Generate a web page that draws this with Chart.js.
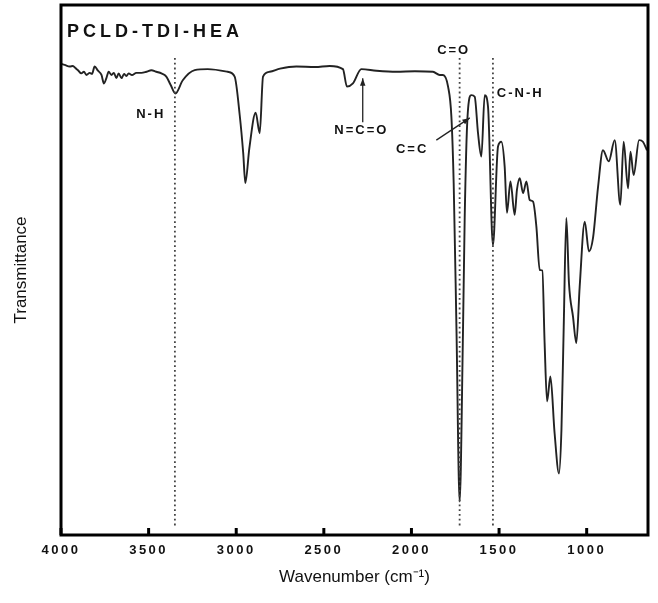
<!DOCTYPE html>
<html>
<head>
<meta charset="utf-8">
<script src="https://cdn.jsdelivr.net/npm/chart.js@4"></script>
<style>
  html, body { margin: 0; padding: 0; background: #fff; }
  #wrap { width: 658px; height: 603px; }
</style>
</head>
<body>
<div id="wrap"><canvas id="ftir-chart"></canvas></div>
<script>
// FTIR spectrum (transmittance in arbitrary units, 0 = bottom of frame)
const wavenumber = [4000, 3979, 3950, 3932, 3918, 3903, 3884, 3869, 3855, 3836, 3823, 3808, 3789, 3769, 3755, 3741,
    3728, 3712, 3698, 3684, 3671, 3655, 3640, 3627, 3614, 3595, 3570, 3541, 3513, 3484, 3456, 3427, 3399, 3374,
    3347, 3305, 3237, 3163, 3049, 3009, 2980, 2960, 2948, 2925, 2889, 2866, 2847, 2809, 2750, 2657, 2550, 2467,
    2391, 2368, 2334, 2286, 2200, 2086, 1980, 1877, 1839, 1820, 1791, 1772, 1759, 1743, 1725, 1706, 1696, 1680,
    1658, 1639, 1620, 1601, 1582, 1563, 1535, 1506, 1487, 1468, 1455, 1435, 1411, 1398, 1382, 1363, 1344, 1325,
    1306, 1287, 1268, 1253, 1240, 1226, 1207, 1183, 1158, 1144, 1131, 1116, 1101, 1078, 1059, 1040, 1011, 987,
    964, 935, 907, 874, 840, 808, 789, 764, 750, 732, 701, 679, 656];
const transmittance = [88.9, 88.7, 88.4, 88.5, 88.1, 87.7, 87.1, 87.4, 86.8, 87.2, 87.0, 88.4, 87.6, 86.8, 85.2, 86.2,
    87.4, 86.8, 87.2, 86.2, 87.1, 86.2, 87.0, 86.6, 87.1, 86.8, 87.2, 87.2, 87.4, 87.7, 87.4, 87.1, 86.5, 84.9,
    83.3, 85.8, 87.7, 87.9, 87.4, 86.5, 79.2, 72.0, 66.4, 73.0, 79.7, 75.8, 86.5, 87.4, 88.0, 88.4, 88.3, 88.5,
    87.9, 84.6, 85.2, 87.9, 87.6, 87.4, 87.5, 87.4, 86.8, 86.8, 84.6, 78.9, 66.4, 38.7, 6.3, 38.0, 60.1, 78.9,
    83.0, 82.7, 75.8, 71.4, 83.0, 80.8, 54.7, 73.3, 74.2, 69.5, 60.8, 66.7, 60.4, 65.1, 67.3, 64.5, 66.7, 63.2,
    62.9, 58.2, 50.0, 49.9, 36.2, 25.2, 29.9, 19.2, 11.6, 19.8, 39.3, 59.8, 47.5, 41.2, 36.2, 46.8, 59.1, 53.5,
    56.0, 65.7, 72.6, 70.5, 74.5, 62.3, 74.2, 65.4, 72.3, 67.9, 74.5, 74.2, 72.6];

const xTickValues = [4000, 3500, 3000, 2500, 2000, 1500, 1000];
const peakLines = [3350, 1725, 1535];           // dotted guide lines
const peakLabels = [
    { text: 'N-H', x: 3488, y: 79.4, align: 'center' },
    { text: 'N=C=O', x: 2286, y: 76.4, align: 'center' },
    { text: 'C=O', x: 1759, y: 91.5, align: 'center' },
    { text: 'C-N-H', x: 1513, y: 83.4, align: 'left' },
    { text: 'C=C', x: 1996, y: 72.8, align: 'center' }
];
const arrows = [
    { from: [2278, 77.9], to: [2278, 86.2] },
    { from: [1858, 74.5], to: [1667, 78.7] }
];
const sampleName = 'PCLD-TDI-HEA';

const FONT = '"Liberation Sans", Arial, sans-serif';

const annotate = {
    id: 'annotate',
    afterDatasetsDraw(chart) {
        const ctx = chart.ctx;
        const xs = chart.scales.x, ys = chart.scales.y;
        const a = chart.chartArea;
        ctx.save();

        // dotted lines
        ctx.strokeStyle = '#444';
        ctx.lineWidth = 1.8;
        ctx.setLineDash([1.8, 3]);
        peakLines.forEach(function(v) {
            const px = xs.getPixelForValue(v);
            ctx.beginPath();
            ctx.moveTo(px, ys.getPixelForValue(90));
            ctx.lineTo(px, ys.getPixelForValue(1.3));
            ctx.stroke();
        });
        ctx.setLineDash([]);

        // arrows
        ctx.strokeStyle = '#222';
        ctx.fillStyle = '#222';
        ctx.lineWidth = 1.3;
        arrows.forEach(function(ar) {
            const x1 = xs.getPixelForValue(ar.from[0]), y1 = ys.getPixelForValue(ar.from[1]);
            const x2 = xs.getPixelForValue(ar.to[0]), y2 = ys.getPixelForValue(ar.to[1]);
            const ang = Math.atan2(y2 - y1, x2 - x1);
            ctx.beginPath();
            ctx.moveTo(x1, y1);
            ctx.lineTo(x2, y2);
            ctx.stroke();
            ctx.beginPath();
            ctx.moveTo(x2, y2);
            ctx.lineTo(x2 - 8 * Math.cos(ang - 0.35), y2 - 8 * Math.sin(ang - 0.35));
            ctx.lineTo(x2 - 8 * Math.cos(ang + 0.35), y2 - 8 * Math.sin(ang + 0.35));
            ctx.closePath();
            ctx.fill();
        });

        // labels
        ctx.fillStyle = '#111';
        ctx.textBaseline = 'middle';
        ctx.font = 'bold 13px ' + FONT;
        ctx.letterSpacing = '2px';
        peakLabels.forEach(function(l) {
            ctx.textAlign = l.align;
            ctx.fillText(l.text, xs.getPixelForValue(l.x), ys.getPixelForValue(l.y));
        });

        ctx.font = 'bold 18px ' + FONT;
        ctx.letterSpacing = '4px';
        ctx.textAlign = 'left';
        ctx.fillText(sampleName, a.left + 6, a.top + 27);
        ctx.restore();
        // spaced digits for the tick labels, which are drawn after this hook (ticks.z = 1)
        ctx.letterSpacing = '2.5px';
    },
    afterDraw(chart) {
        const ctx = chart.ctx;
        ctx.letterSpacing = '0px';
        const xs = chart.scales.x;
        const a = chart.chartArea;
        ctx.save();
        ctx.strokeStyle = '#000';
        ctx.lineWidth = 3;
        ctx.strokeRect(a.left, a.top, a.right - a.left, a.bottom - a.top);
        // inward tick marks
        xTickValues.forEach(function(v) {
            const px = xs.getPixelForValue(v);
            ctx.beginPath();
            ctx.moveTo(px, a.bottom);
            ctx.lineTo(px, a.bottom - 7);
            ctx.stroke();
        });
        ctx.restore();
    }
};

new Chart(document.getElementById('ftir-chart'), {
    type: 'line',
    data: {
        datasets: [{
            label: sampleName,
            data: wavenumber.map(function(w, i) { return { x: w, y: transmittance[i] }; }),
            borderColor: '#222',
            borderWidth: 1.9,
            pointRadius: 0,
            cubicInterpolationMode: 'monotone',
            fill: false
        }]
    },
    options: {
        responsive: true,
        maintainAspectRatio: false,
        animation: false,
        layout: { padding: { top: 5, right: 10, left: 0, bottom: 0 } },
        plugins: {
            legend: { display: false },
            tooltip: { enabled: false }
        },
        scales: {
            x: {
                type: 'linear',
                reverse: true,
                min: 650,
                max: 4000,
                afterBuildTicks: function(scale) {
                    scale.ticks = xTickValues.map(function(v) { return { value: v }; });
                },
                afterFit: function(scale) { scale.height = 68; },
                grid: { display: false, drawTicks: false },
                border: { display: false },
                ticks: {
                    z: 1,
                    padding: 8,
                    maxRotation: 0,
                    autoSkip: false,
                    color: '#111',
                    font: { family: FONT, size: 13, weight: 'bold' },
                    callback: function(v) { return String(v); }
                },
                title: {
                    display: true,
                    text: 'Wavenumber (cm\u207B\u00B9)',
                    color: '#111',
                    font: { family: FONT, size: 17 },
                    padding: { top: 0, bottom: 15 }
                }
            },
            y: {
                min: 0,
                max: 100,
                afterFit: function(scale) { scale.width = 61; },
                grid: { display: false, drawTicks: false },
                border: { display: false },
                ticks: { display: false },
                title: {
                    display: true,
                    text: 'Transmittance',
                    color: '#111',
                    font: { family: FONT, size: 17 },
                    padding: { top: 11, bottom: 0 }
                }
            }
        }
    },
    plugins: [annotate]
});
</script>
</body>
</html>
